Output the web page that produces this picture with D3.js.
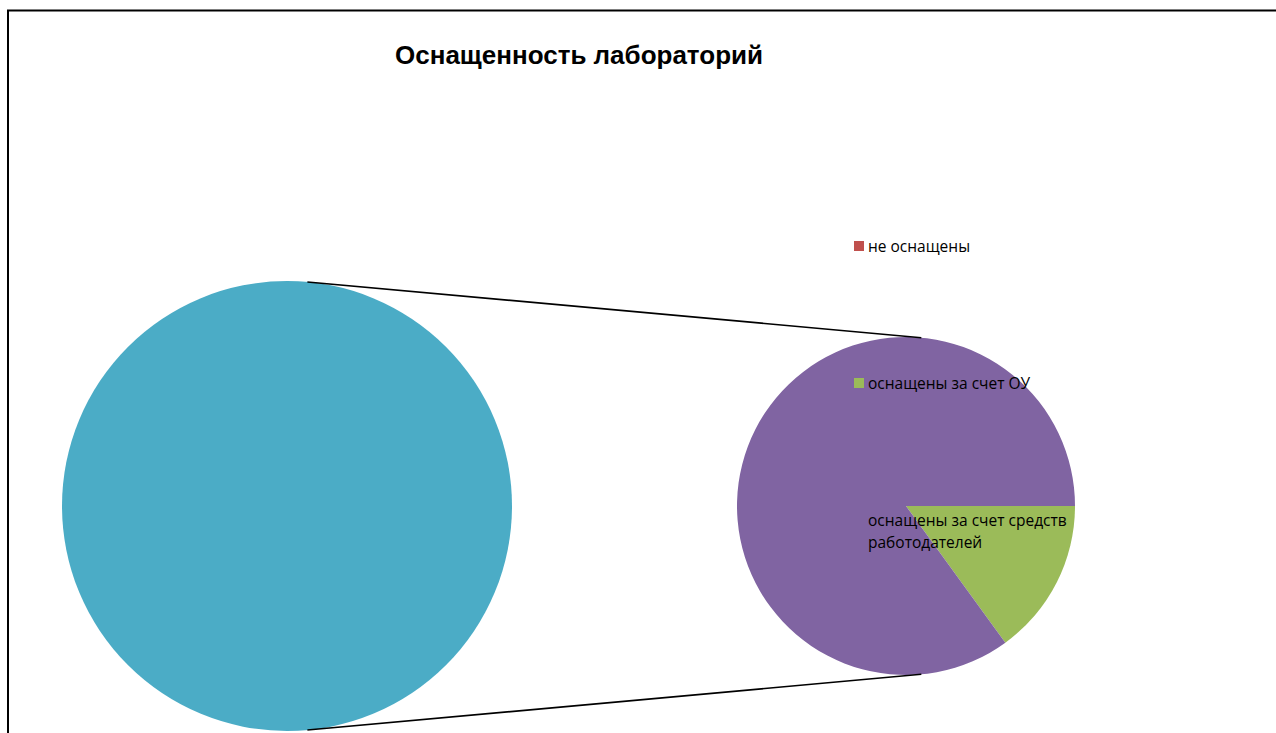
<!DOCTYPE html>
<html>
<head>
<meta charset="utf-8">
<script src="https://cdn.jsdelivr.net/npm/d3@7"></script>
<style>
  html, body { margin: 0; padding: 0; background: #fff; overflow: hidden; }
  svg { display: block; }
</style>
</head>
<body>
<svg id="chart" width="1276" height="733"></svg>
<script>
// Laboratory equipment shares, percent
const categories = ["не оснащены", "оснащены за счет ОУ", "оснащены за счет средств работодателей"];
const values = [0, 15, 85];
const colors = ["#C0504D", "#9BBB59", "#8064A2"];
// Every point is split off into the secondary pie; the primary pie holds only the aggregate
const secondaryFlags = [true, true, true];
const otherColor = "#4BACC6";
const title = "Оснащенность лабораторий";

const svg = d3.select("#chart");
const W = 1276, H = 733;

// chart frame (right and bottom edges run past the viewport)
svg.append("rect")
  .attr("x", 8).attr("y", 10.5)
  .attr("width", W + 20).attr("height", H + 20)
  .attr("fill", "none").attr("stroke", "#000").attr("stroke-width", 2);

svg.append("text")
  .attr("x", 579).attr("y", 64)
  .attr("text-anchor", "middle")
  .attr("font-family", "Liberation Sans, Arial, sans-serif")
  .attr("font-weight", "bold")
  .attr("font-size", 26)
  .text(title);

const rows = categories.map((c, i) => ({ name: c, value: values[i], color: colors[i], secondary: secondaryFlags[i] }));
const secondaryRows = rows.filter(r => r.secondary);
const otherTotal = d3.sum(secondaryRows, r => r.value);
const primaryRows = rows.filter(r => !r.secondary)
  .concat([{ name: "Другой", value: otherTotal, color: otherColor }]);

// geometry of the two pies
const P = { cx: 287, cy: 506, r: 225 };
const S = { cx: 906, cy: 506, r: 169 };

const pie = d3.pie().sort(null).value(d => d.value);

// primary pie
const primaryArcs = pie.startAngle(0).endAngle(2 * Math.PI)(primaryRows);
svg.append("g").attr("transform", `translate(${P.cx},${P.cy})`)
  .selectAll("path").data(primaryArcs).join("path")
  .attr("d", d3.arc().innerRadius(0).outerRadius(P.r))
  .attr("fill", d => d.data.color);

// secondary pie, starting at 3 o'clock
const secondaryArcs = d3.pie().sort(null).value(d => d.value)
  .startAngle(Math.PI / 2).endAngle(Math.PI / 2 + 2 * Math.PI)(secondaryRows);
svg.append("g").attr("transform", `translate(${S.cx},${S.cy})`)
  .selectAll("path").data(secondaryArcs.filter(d => d.data.value > 0)).join("path")
  .attr("d", d3.arc().innerRadius(0).outerRadius(S.r))
  .attr("fill", d => d.data.color);

// connector lines between the pies
const tilt = 5.2 * Math.PI / 180;
[-1, 1].forEach(sgn => {
  const a = tilt;
  const x1 = P.cx + P.r * Math.sin(a), y1 = P.cy + sgn * P.r * Math.cos(a);
  const x2 = S.cx + S.r * Math.sin(a), y2 = S.cy + sgn * S.r * Math.cos(a);
  svg.append("line")
    .attr("x1", x1).attr("y1", y1).attr("x2", x2).attr("y2", y2)
    .attr("stroke", "#000").attr("stroke-width", 1.6);
});

// legend
const ly = d3.scalePoint().domain(categories).range([246, 520]);
const legend = svg.append("g").attr("font-family", "Open Sans, Noto Sans, sans-serif").attr("font-size", 15.5);
const items = legend.selectAll("g").data(rows).join("g")
  .attr("transform", d => `translate(854,${ly(d.name)})`);
items.append("rect").attr("x", 0).attr("y", -5).attr("width", 10).attr("height", 10)
  .attr("fill", d => d.color);
items.each(function(d) {
  const t = d3.select(this).append("text").attr("x", 14).attr("y", 5.5).attr("fill", "#000");
  const lines = d.name === categories[2] ? ["оснащены за счет средств", "работодателей"] : [d.name];
  lines.forEach((ln, i) => t.append("tspan").attr("x", 14).attr("dy", i === 0 ? 0 : 22).text(ln));
});
</script>
</body>
</html>
